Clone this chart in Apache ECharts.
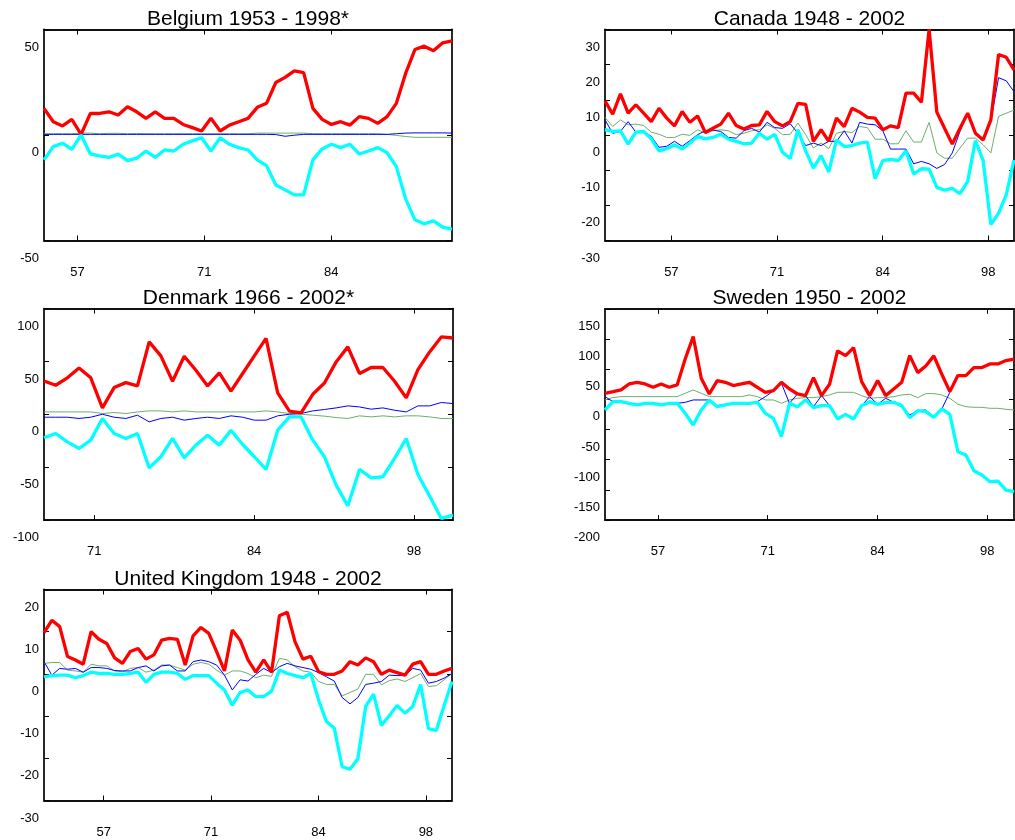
<!DOCTYPE html>
<html>
<head>
<meta charset="utf-8">
<title>Country panels</title>
<script src="https://cdn.jsdelivr.net/npm/echarts@6/dist/echarts.min.js"></script>
<style>
  html, body { margin: 0; padding: 0; background: #fff; }
  #main { width: 1015px; height: 840px; }
</style>
</head>
<body>
<div id="main"></div>
<script>
// x ticks (fractional year positions) and their labels
var xTickPos = [1957.60, 1971.29, 1984.98, 1998.67];
var xTickText = ['57', '71', '84', '98'];

// Belgium, 1954 - 1998
var belRed = [12.6, 6.3, 4.3, 7.4, 0.3, 10.2, 10.2, 11.0, 9.5, 13.4,
  11.0, 7.9, 11.0, 7.9, 7.9, 5.0, 3.5, 1.9, 7.9, 1.9,
  4.7, 6.3, 7.9, 13.1, 15.0, 24.9, 27.3, 30.4, 29.6, 12.6,
  7.4, 5.0, 6.3, 4.7, 8.7, 7.9, 5.5, 8.7, 15.0, 29.2,
  40.5, 42.1, 39.9, 43.7, 44.6];
var belCyan = [-11.8, -5.5, -3.9, -6.8, 0.0, -9.0, -9.9, -10.6, -9.1, -12.1,
  -11.0, -7.6, -10.6, -7.1, -7.6, -4.4, -2.8, -1.3, -7.6, -1.3,
  -4.4, -6.0, -7.1, -11.8, -14.5, -23.7, -26.0, -28.4, -28.4, -11.8,
  -6.6, -4.4, -6.0, -4.4, -9.0, -7.6, -6.0, -8.4, -15.0, -30.3,
  -40.2, -42.1, -40.7, -43.7, -44.6];
var belBlue = [0.3, 0.3, 0.3, 0.3, 0.3, 0.3, 0.3, 0.3, 0.3, 0.3,
  0.3, 0.3, 0.3, 0.3, 0.3, 0.3, 0.3, 0.3, 0.3, 0.3,
  0.3, 0.3, 0.3, 0.3, 0.3, 0.2, -0.6, -0.1, 0.3, 0.3,
  0.3, 0.3, 0.3, 0.3, 0.3, 0.3, 0.3, 0.3, 0.6, 0.9,
  1.0, 1.0, 1.0, 1.0, 0.9];
var belGreen = [0.6, 0.6, 0.6, 0.6, 0.9, 0.9, 0.6, 0.8, 0.8, 0.6,
  0.7, 0.6, 0.6, 0.6, 0.6, 0.6, 0.6, 0.6, 0.6, 0.6,
  0.6, 0.6, 0.6, 0.9, 0.9, 0.9, 0.9, 0.9, 0.9, 0.6,
  0.6, 0.6, 0.6, 0.6, 0.6, 0.6, 0.6, 0.3, -0.2, -0.7,
  -1.1, -1.1, -1.1, -1.1, -1.1];

// Canada, 1949 - 2002
var canRed = [9.7, 5.9, 11.7, 6.2, 8.6, 6.2, 3.8, 7.6, 4.8, 2.6,
  6.7, 3.6, 5.4, 0.7, 1.9, 3.1, 6.2, 2.7, 1.7, 2.7,
  2.9, 6.7, 3.8, 2.6, 3.8, 9.0, 8.7, -1.8, 1.5, -1.8,
  4.8, 2.4, 7.6, 6.5, 5.0, 4.8, 1.5, 2.6, 2.1, 11.9,
  11.9, 9.3, 30.0, 6.5, 1.9, -2.6, 1.9, 6.2, 0.5, -1.4,
  4.3, 22.9, 22.1, 18.5];
var canCyan = [1.5, 1.0, 1.2, -2.6, 0.8, 1.0, -1.1, -4.5, -3.9, -2.8,
  -4.0, -2.3, -0.4, -1.1, -0.7, 0.2, -1.2, -1.8, -2.5, -2.3,
  0.5, -1.2, 0.2, -4.9, -6.7, 1.5, -4.5, -9.4, -5.9, -10.5,
  -1.4, -3.3, -3.0, -2.3, -2.0, -12.4, -7.3, -6.9, -7.3, -4.5,
  -11.1, -9.6, -9.7, -14.9, -15.7, -15.2, -16.7, -13.2, -1.6, -7.3,
  -25.5, -22.2, -17.0, -7.1];
var canBlue = [4.3, 0.5, 1.0, 3.8, 0.8, 1.0, -0.4, -3.5, -3.2, -1.8,
  -3.2, -1.6, 0.1, 1.2, 1.4, 1.0, -0.7, -0.9, 1.2, 1.9,
  0.8, 3.6, 2.1, 1.9, 3.2, 0.5, -3.0, -2.3, -3.0, -1.8,
  -1.8, 1.2, -2.3, 3.6, 3.1, 2.9, 1.2, -4.0, -4.0, -4.0,
  -8.2, -7.5, -8.2, -9.5, -8.4, -5.1, 1.0, 6.2, 0.1, -1.4,
  4.0, 16.3, 15.4, 12.3];
var canGreen = [5.0, 2.4, 4.3, 2.9, 3.1, 2.7, 0.8, 0.2, -0.7, -0.7,
  0.2, -0.1, 1.5, 0.5, 1.2, 1.5, 1.2, 0.1, 0.5, 1.2,
  1.5, 2.9, 1.9, 0.1, 0.2, 3.4, 0.1, -3.7, -2.3, -3.9,
  0.5, 1.0, 0.7, 2.4, 2.1, -1.2, -1.2, -2.5, -2.5, 1.2,
  -2.0, -2.0, 3.6, -5.1, -6.6, -6.6, -3.7, -0.9, -0.9, -2.8,
  -5.1, 5.3, 6.2, 7.1];

// Denmark, 1967 - 2002
var denRed = [31.6, 27.5, 34.5, 43.9, 34.5, 6.1, 25.3, 30.0, 26.9, 68.5,
  55.3, 31.3, 54.9, 41.7, 26.9, 39.2, 21.9, 38.6, 55.3, 71.8,
  20.3, 3.0, 1.4, 19.0, 29.7, 49.6, 63.8, 38.6, 44.3, 44.3,
  31.3, 15.6, 42.3, 59.0, 73.2, 72.2];
var denCyan = [-22.2, -18.1, -26.0, -32.3, -24.4, -4.0, -18.1, -22.8, -18.1, -50.6,
  -40.1, -22.8, -41.1, -29.1, -19.7, -29.1, -15.0, -28.5, -40.1, -52.1,
  -15.0, -2.4, -2.4, -24.4, -40.1, -66.9, -86.5, -52.1, -60.0, -59.0,
  -41.7, -22.8, -56.9, -77.3, -98.4, -95.3];
var denBlue = [-2.7, -2.7, -2.7, -3.9, -2.7, 0.1, -2.7, -3.9, -0.8, -7.1,
  -3.9, -2.7, -5.5, -3.9, -2.7, -3.9, -1.4, -2.7, -5.5, -5.5,
  -1.4, 0.1, 0.8, 3.3, 4.6, 6.1, 8.0, 7.0, 4.9, 6.1,
  3.9, 2.3, 8.0, 8.0, 11.2, 10.2];
var denGreen = [2.3, 2.3, 2.3, 2.3, 2.3, 0.8, 1.7, 0.8, 2.3, 3.3,
  3.3, 2.3, 3.3, 2.3, 2.3, 2.3, 2.3, 2.3, 2.3, 3.3,
  2.3, 0.8, 0.1, -0.8, -1.7, -3.0, -3.9, -1.4, -2.4, -1.4,
  -2.4, -1.4, -1.4, -2.4, -3.9, -3.9];

// Sweden, 1951 - 2002
var sweRed = [10.1, 12.8, 15.6, 25.5, 28.3, 25.5, 20.0, 25.5, 20.0, 23.9,
  66.9, 104.1, 34.9, 8.9, 31.1, 28.3, 22.8, 25.5, 28.3, 20.0,
  11.7, 14.5, 28.3, 17.3, 8.9, 6.2, 36.0, 6.2, 24.9, 80.3,
  72.5, 85.8, 29.4, 6.2, 31.1, 6.2, 17.3, 28.3, 72.5, 44.3,
  55.4, 72.0, 41.6, 12.8, 39.4, 39.4, 52.6, 52.6, 58.7, 58.7,
  64.2, 66.5];
var sweCyan = [-17.6, -3.8, -3.8, -6.5, -9.3, -6.5, -6.5, -9.3, -6.5, -6.5,
  -23.1, -42.5, -17.6, -1.0, -12.1, -9.3, -6.5, -6.5, -6.5, -4.9,
  -23.1, -31.4, -61.8, -6.5, -12.1, -1.0, -13.7, -10.4, -10.4, -32.5,
  -24.8, -32.5, -10.4, -3.8, -8.2, -4.9, -4.9, -10.4, -30.3, -18.7,
  -20.3, -29.7, -15.9, -24.8, -86.7, -92.3, -118.2, -125.4, -136.5, -135.4,
  -150.3, -153.0];
var sweBlue = [4.5, -3.8, -3.8, -6.5, -8.2, -6.5, -6.5, -8.2, -6.5, -6.5,
  -4.9, -1.0, -1.0, -1.0, -10.4, -8.2, -6.5, -6.5, -6.5, -3.8,
  4.5, 13.9, 26.6, -6.5, 8.9, 6.2, -12.1, 6.2, -10.4, -31.4,
  -24.8, -31.4, -10.4, 4.5, -8.2, 1.8, -4.9, -10.4, -25.9, -18.7,
  -17.6, -28.6, -15.9, 11.7, 39.4, 39.4, 52.6, 52.6, 58.7, 58.7,
  64.2, 66.5];
var sweGreen = [-1.0, 2.9, 4.5, 4.5, 4.5, 4.5, 4.5, 4.5, 4.5, 4.5,
  10.0, 15.6, 10.0, 4.5, 4.5, 4.5, 4.5, 4.5, 7.3, 4.5,
  -1.0, -1.0, -6.5, -1.0, 1.8, 2.9, 2.9, 4.5, 7.3, 11.7,
  11.7, 11.7, 6.0, 1.8, 2.9, 2.9, 4.5, 7.3, 8.4, 2.9,
  9.5, 9.5, 7.3, 1.8, -8.2, -12.1, -13.2, -13.2, -14.8, -14.8,
  -16.5, -17.6];

// United Kingdom, 1950 - 2002
var ukRed = [9.8, 12.7, 11.2, 4.1, 3.3, 2.3, 10.0, 8.2, 7.2, 3.8,
  2.5, 5.3, 6.0, 3.5, 4.5, 8.0, 8.4, 8.2, 2.1, 9.0,
  11.0, 9.6, 5.3, 0.7, 10.4, 8.0, 3.3, 0.4, 3.3, 0.4,
  13.8, 14.6, 7.6, 3.5, 4.2, 0.5, -0.1, -0.1, 0.7, 2.9,
  2.1, 3.8, 2.9, -0.1, 0.9, 0.3, -0.3, 2.3, 2.9, -0.1,
  -0.1, 0.7, 1.3];
var ukCyan = [-0.7, -0.4, -0.3, -0.3, -0.9, -0.4, 0.4, 0.1, 0.1, -0.1,
  -0.1, 0.1, 0.4, -2.0, -0.1, 0.4, 0.4, 0.1, -1.3, -0.4,
  -0.4, -0.4, -2.2, -3.8, -7.4, -4.4, -3.8, -5.4, -5.4, -4.1,
  0.9, 0.1, -0.4, -0.9, 0.1, -6.2, -11.3, -12.9, -22.0, -22.6,
  -20.1, -7.7, -4.8, -12.2, -9.9, -7.5, -9.3, -7.7, -2.5, -13.0,
  -13.4, -7.5, -1.8];
var ukBlue = [2.9, -0.3, 1.3, 1.1, 1.3, 0.4, 1.5, 1.5, 1.3, 0.8,
  0.7, 0.7, 1.5, 1.9, 0.7, 1.9, 2.1, 0.7, 0.7, 2.9,
  3.3, 2.9, 2.1, -0.3, -3.8, -1.4, -1.7, -0.1, 1.3, 0.3,
  1.7, 2.5, 1.9, 1.5, 1.1, 0.3, -0.7, -1.7, -5.6, -7.1,
  -5.6, -2.5, -2.2, -1.8, -0.3, -0.4, -0.4, 1.3, 0.9, -2.2,
  -1.8, -1.0, 0.1];
var ukGreen = [2.5, 2.7, 2.7, 0.9, 0.7, 0.4, 2.3, 1.9, 1.9, 0.7,
  0.5, 1.3, 1.5, 0.4, 0.9, 2.1, 2.1, 1.5, 0.9, 2.3,
  2.7, 2.3, 0.9, -0.3, 0.7, 0.7, 0.1, -0.9, -0.3, -0.6,
  3.7, 3.3, 1.7, 0.7, 0.4, -1.8, -2.5, -2.5, -5.2, -4.4,
  -3.6, -0.1, -0.1, -2.6, -1.6, -1.2, -1.8, -0.9, 0.1, -3.0,
  -2.8, -1.4, 0.1];

var panels = [
  { title: 'Belgium 1953 - 1998*', start: 1954, end: 1998,
    red: belRed, cyan: belCyan, blue: belBlue, green: belGreen,
    yMin: -50, yMax: 50, yStep: 50, left: 44, top: 29.5, width: 408, height: 211 },
  { title: 'Canada 1948 - 2002', start: 1949, end: 2002,
    red: canRed, cyan: canCyan, blue: canBlue, green: canGreen,
    yMin: -30, yMax: 30, yStep: 10, left: 605, top: 29.5, width: 409, height: 211 },
  { title: 'Denmark 1966 - 2002*', start: 1967, end: 2002,
    red: denRed, cyan: denCyan, blue: denBlue, green: denGreen,
    yMin: -100, yMax: 100, yStep: 50, left: 44, top: 308.6, width: 409, height: 211.5 },
  { title: 'Sweden 1950 - 2002', start: 1951, end: 2002,
    red: sweRed, cyan: sweCyan, blue: sweBlue, green: sweGreen,
    yMin: -200, yMax: 150, yStep: 50, left: 605, top: 308.8, width: 409, height: 211.3 },
  { title: 'United Kingdom 1948 - 2002', start: 1950, end: 2002,
    red: ukRed, cyan: ukCyan, blue: ukBlue, green: ukGreen,
    yMin: -30, yMax: 20, yStep: 10, left: 44, top: 589.5, width: 408, height: 211 }
];

var FONT = "'Liberation Sans', Arial, Helvetica, sans-serif";
var LABEL_SHIFT = 17.5;   // y labels sit a bit under their ticks in the original

function toPoints(start, vals) {
  return vals.map(function (v, i) { return [start + i, v]; });
}

function tickLabel(v) {
  for (var k = 0; k < xTickPos.length; k++) {
    if (Math.abs(xTickPos[k] - v) < 0.01) return xTickText[k];
  }
  return '';
}

var grids = [], xAxes = [], yAxes = [], series = [], titles = [];
var boxLine = { color: '#111', width: 1.8 };

panels.forEach(function (p, i) {
  var ticks = xTickPos.filter(function (t) { return t >= p.start && t <= p.end; });

  grids.push({ left: p.left, top: p.top, width: p.width, height: p.height });
  grids.push({ left: p.left, top: p.top + LABEL_SHIFT, width: p.width, height: p.height });

  titles.push({
    text: p.title, left: p.left + p.width / 2, top: p.top - 20.6,
    textAlign: 'center', padding: 0,
    textStyle: { fontSize: 21, fontWeight: 'normal', color: '#000', fontFamily: FONT }
  });

  // bottom x axis with labels
  xAxes.push({
    type: 'value', gridIndex: 2 * i, min: p.start, max: p.end, position: 'bottom',
    axisLine: { show: true, onZero: false, lineStyle: boxLine },
    axisTick: { show: true, inside: true, length: 5, customValues: ticks, lineStyle: { color: '#000' } },
    axisLabel: { show: true, customValues: ticks, margin: 25, fontSize: 13, color: '#000',
      fontFamily: FONT, formatter: tickLabel },
    splitLine: { show: false }
  });
  // top x axis, ticks only
  xAxes.push({
    type: 'value', gridIndex: 2 * i, min: p.start, max: p.end, position: 'top',
    axisLine: { show: true, onZero: false, lineStyle: boxLine },
    axisTick: { show: true, inside: true, length: 5, customValues: ticks, lineStyle: { color: '#000' } },
    axisLabel: { show: false },
    splitLine: { show: false }
  });
  // hidden x axis for the label grid
  xAxes.push({ type: 'value', gridIndex: 2 * i + 1, min: p.start, max: p.end, show: false });

  var yBase = {
    type: 'value', gridIndex: 2 * i, min: p.yMin, max: p.yMax, interval: p.yStep,
    axisLine: { show: true, onZero: false, lineStyle: boxLine },
    axisTick: { show: true, inside: true, length: 5, lineStyle: { color: '#000' } },
    axisLabel: { show: false },
    splitLine: { show: false }
  };
  yAxes.push(Object.assign({}, yBase, { position: 'left' }));
  yAxes.push(Object.assign({}, yBase, { position: 'right' }));
  // label-only y axis, shifted down
  yAxes.push({
    type: 'value', gridIndex: 2 * i + 1, min: p.yMin, max: p.yMax, interval: p.yStep,
    position: 'left',
    axisLine: { show: false }, axisTick: { show: false }, splitLine: { show: false },
    axisLabel: { show: true, margin: 5, fontSize: 13, color: '#000', fontFamily: FONT }
  });

  var lines = [
    { vals: p.green, color: '#6cae6c', width: 1 },
    { vals: p.blue, color: '#0000ff', width: 1 },
    { vals: p.red, color: '#ff0000', width: 3.3 },
    { vals: p.cyan, color: '#00ffff', width: 3.3 }
  ];
  lines.forEach(function (l) {
    series.push({
      type: 'line', xAxisIndex: 3 * i, yAxisIndex: 3 * i,
      data: toPoints(p.start, l.vals),
      showSymbol: false, symbol: 'none', clip: true,
      lineStyle: { color: l.color, width: l.width },
      itemStyle: { color: l.color },
      emphasis: { disabled: true }
    });
  });
});

var chart = echarts.init(document.getElementById('main'));
chart.setOption({
  animation: false,
  backgroundColor: '#fff',
  title: titles,
  grid: grids,
  xAxis: xAxes,
  yAxis: yAxes,
  series: series
});
</script>
</body>
</html>
